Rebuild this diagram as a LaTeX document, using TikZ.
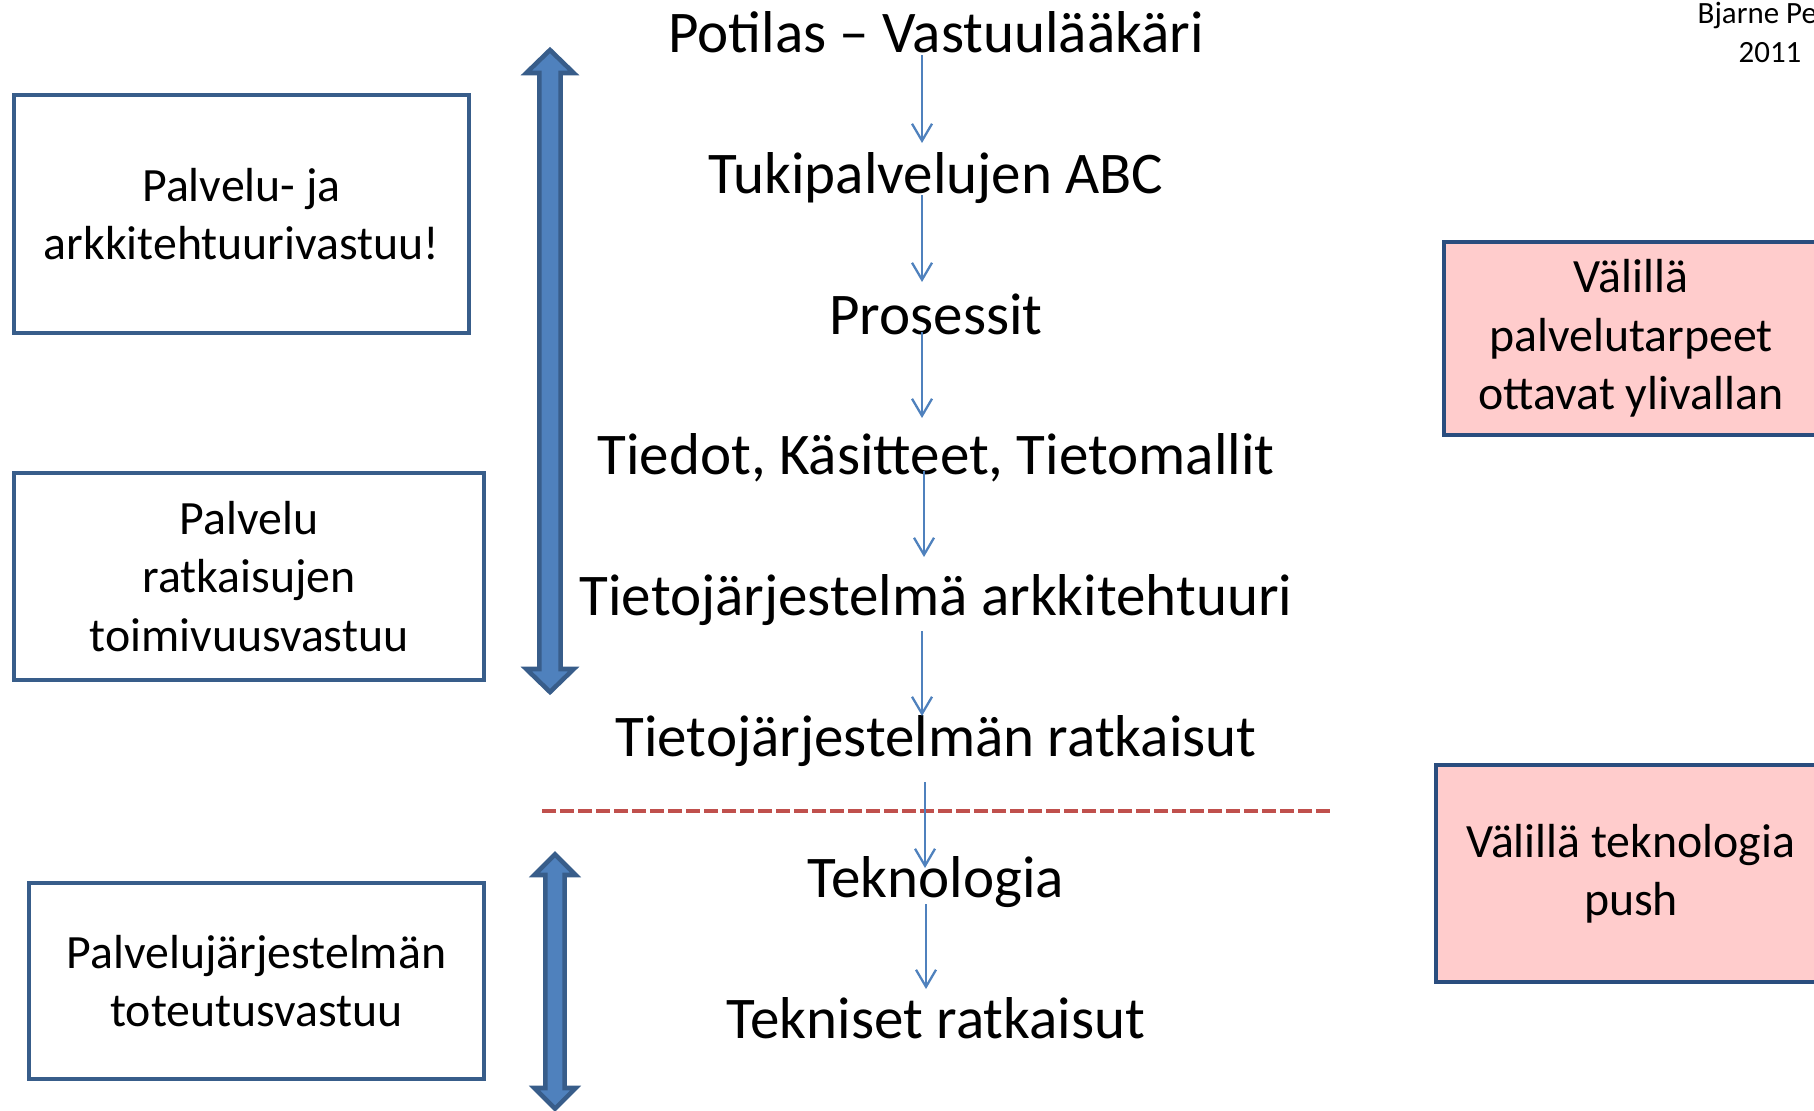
\documentclass[tikz,border=0pt]{standalone}
\usepackage{fontspec}
\setmainfont{Carlito}
\usetikzlibrary{arrows.meta}

\definecolor{accentblue}{HTML}{4F81BD}
\definecolor{darkblue}{HTML}{385D8A}
\definecolor{navyblue}{HTML}{2A4D7E}
\definecolor{pinkfill}{HTML}{FFCCCC}
\definecolor{cutred}{HTML}{C0504D}

\begin{document}
\begin{tikzpicture}[
        level/.style={anchor=base, inner sep=0pt, font=\fontsize{16.8}{20}\selectfont},
        duty/.style={draw=darkblue, line width=1.3pt, align=center, inner sep=0pt,
            font=\fontsize{13.6}{16.6}\selectfont},
        note/.style={duty, draw=navyblue, fill=pinkfill},
        flow/.style={accentblue, line width=0.65pt, -{Straight Barb[length=1.7mm,width=2mm]}},
        bigarrow/.style={fill=accentblue, draw=darkblue, line width=1.3pt, line join=miter},
        cutline/.style={cutred, line width=0.45mm, dash pattern=on 1.4mm off 0.4mm}
    ]
        \clip (0,0) rectangle (18.14,11.10);

        % the chain of levels
        \node[level] (potilas) at (9.36,10.58) {Potilas – Vastuulääkäri};
        \node[level] (tuki) at (9.36,9.17) {Tukipalvelujen ABC};
        \node[level] (prosessit) at (9.36,7.76) {Prosessit};
        \node[level] (tiedot) at (9.36,6.36) {Tiedot, Käsitteet, Tietomallit};
        \node[level] (arkki) at (9.36,4.95) {Tietojärjestelmä arkkitehtuuri};
        \node[level] (ratkaisut) at (9.36,3.54) {Tietojärjestelmän ratkaisut};
        \node[level] (tekno) at (9.36,2.13) {Teknologia};
        \node[level] (tekniset) at (9.36,0.72) {Tekniset ratkaisut};

        \draw[cutline] (5.42,2.99) -- (13.30,2.99);

        \draw[flow] ([xshift=-1.4mm,yshift=-0.3mm]potilas.base) -- ([xshift=-1.4mm,yshift=5.0mm]tuki.base);
        \draw[flow] ([xshift=-1.4mm,yshift=-0.2mm]tuki.base) -- ([xshift=-1.4mm,yshift=5.2mm]prosessit.base);
        \draw[flow] ([xshift=-1.4mm,yshift=0.2mm]prosessit.base) -- ([xshift=-1.4mm,yshift=5.6mm]tiedot.base);
        \draw[flow] ([xshift=-1.2mm,yshift=0.3mm]tiedot.base) -- ([xshift=-1.2mm,yshift=5.8mm]arkki.base);
        \draw[flow] ([xshift=-1.4mm,yshift=-1.6mm]arkki.base) -- ([xshift=-1.4mm,yshift=4.0mm]ratkaisut.base);
        \draw[flow] ([xshift=-1.1mm,yshift=-2.6mm]ratkaisut.base) -- ([xshift=-1.1mm,yshift=2.9mm]tekno.base);
        \draw[flow] ([xshift=-1.0mm,yshift=-0.7mm]tekno.base) -- ([xshift=-1.0mm,yshift=4.9mm]tekniset.base);

        % responsibilities on the left
        \node[duty, minimum width=4.55cm, minimum height=2.38cm] (arkvastuu) at (2.415,8.96)
            {Palvelu- ja\\arkkitehtuurivastuu!};
        \node[duty, minimum width=4.70cm, minimum height=2.07cm] (toimivastuu) at (2.49,5.335)
            {Palvelu\\ratkaisujen\\toimivuusvastuu};
        \node[duty, minimum width=4.55cm, minimum height=1.96cm] (toteutusvastuu) at (2.565,1.29)
            {Palvelujärjestelmän\\toteutusvastuu};

        \draw[bigarrow] (5.393,10.37) -- (5.263,10.37) -- (5.50,10.60) -- (5.737,10.37) -- (5.607,10.37)
            -- (5.607,4.41) -- (5.737,4.41) -- (5.50,4.18) -- (5.263,4.41) -- (5.393,4.41) -- cycle;
        \draw[bigarrow] (5.453,2.35) -- (5.343,2.35) -- (5.55,2.557) -- (5.757,2.35) -- (5.647,2.35)
            -- (5.647,0.22) -- (5.757,0.22) -- (5.55,0.013) -- (5.343,0.22) -- (5.453,0.22) -- cycle;

        % notes on the right
        \node[note, minimum width=3.74cm, minimum height=1.93cm] (tarpeet) at (16.31,7.715)
            {Välillä\\palvelutarpeet\\ottavat ylivallan};
        \node[note, minimum width=3.90cm, minimum height=2.17cm] (push) at (16.31,2.365)
            {Välillä teknologia\\push};

        \node[anchor=base west, inner sep=0pt, font=\fontsize{8.8}{10}\selectfont] (tekija) at (16.97,10.87) {Bjarne Pe};
        \node[anchor=base, inner sep=0pt, font=\fontsize{8.8}{10}\selectfont] (vuosi) at (17.70,10.48) {2011};
    \end{tikzpicture}
\end{document}
